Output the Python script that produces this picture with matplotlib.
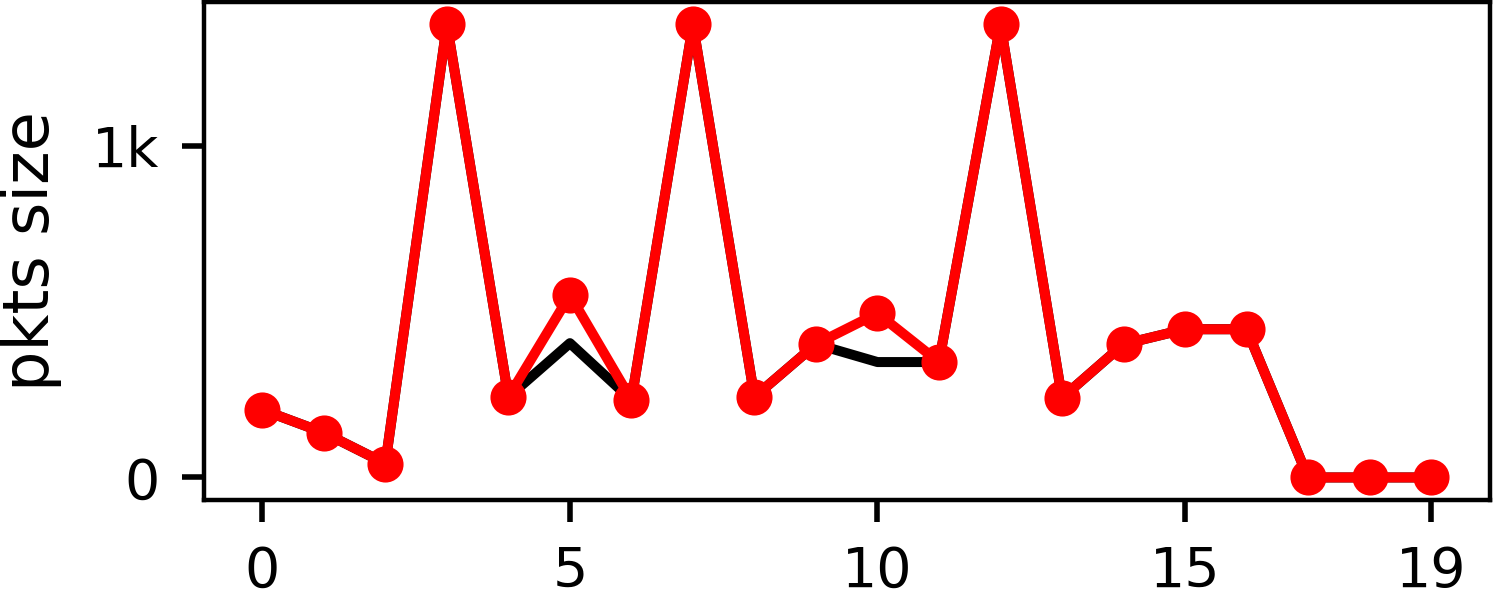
import numpy as np
import matplotlib.pyplot as plt
from matplotlib.ticker import FuncFormatter

# packet sizes per index
x = np.arange(20)
pkts_ref = [204, 135, 42, 1366, 243, 405, 234, 1366, 243, 402,
            348, 348, 1366, 240, 402, 447, 447, 0, 0, 0]
pkts_gen = [204, 135, 42, 1366, 243, 550, 234, 1366, 243, 402,
            495, 348, 1366, 240, 402, 447, 447, 0, 0, 0]
xticks = [0, 5, 10, 15, 19]
yticks = [0, 1000]

fig = plt.figure(figsize=(7.47, 3.02), dpi=200)
ax = fig.add_axes([0.1365, 0.172, 0.8605, 0.825])

ax.plot(x, pkts_ref, color='black', linewidth=3.6)
ax.plot(x, pkts_gen, color='red', linewidth=3.6, marker='o', markersize=12)

ax.set_xticks(xticks)
ax.set_yticks(yticks)
ax.yaxis.set_major_formatter(FuncFormatter(lambda v, p: '0' if v == 0 else '%dk' % (v / 1000)))
ax.tick_params(labelsize=20, length=8, width=2, pad=8)
ax.set_ylabel('pkts size', fontsize=23, labelpad=11)
for s in ax.spines.values():
    s.set_linewidth(1.6)

plt.savefig('out.png', dpi=200)
